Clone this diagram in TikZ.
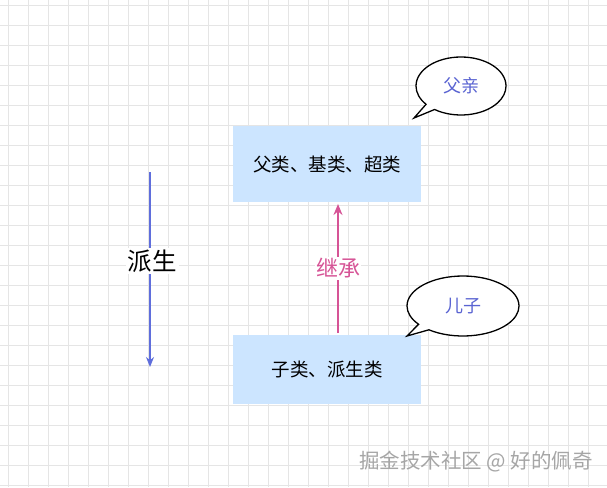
\documentclass[tikz,border=0pt]{standalone}
\usepackage{fontspec}
\newfontfamily\cjk{Noto Sans CJK SC}
\usetikzlibrary{shapes.callouts,arrows.meta}
\begin{document}
\begin{tikzpicture}[x=1pt,y=-1pt,font=\cjk,
  cls/.style={draw=none,fill={rgb,255:red,204;green,229;blue,255},minimum width=188,minimum height=76,inner sep=0,font=\cjk\fontsize{18.5}{20}\selectfont},
  bubble/.style={ellipse callout,draw=black,line width=1.3pt,fill=white,font=\cjk\fontsize{18}{20}\selectfont,text={rgb,255:red,90;green,100;blue,210}}]
\fill[white] (0,0) rectangle (607,487);
\useasboundingbox (0,0) rectangle (607,487);
\foreach \i in {0,20,...,600} \draw[black!10,line width=0.8pt] (\i+8,0) -- (\i+8,487);
\foreach \i in {0,20,...,480} \draw[black!10,line width=0.8pt] (0,\i+5) -- (607,\i+5);
\node[cls] (p) at (327,164) {父类、基类、超类};
\node[cls,minimum height=69] (c) at (327,369.5) {子类、派生类};
\coordinate (ps) at (338,333);
\coordinate (pe) at (338,204);
\draw[line width=2.4pt,draw={rgb,255:red,214;green,84;blue,150},-{Stealth[length=11pt,width=9pt]}] (ps) -- (pe)
  node[midway,fill=white,inner sep=1pt,text={rgb,255:red,214;green,84;blue,150},font=\cjk\fontsize{22}{24}\selectfont] (jc) {继承};
\coordinate (ds) at (150,172);
\coordinate (de) at (150,367);
\draw[line width=1.6pt,draw={rgb,255:red,95;green,110;blue,220},-{Stealth[length=10pt,width=8pt]}] (ds) -- (de);
\node[fill=white,inner sep=2pt,font=\cjk\fontsize{24.5}{26}\selectfont] (ps2) at (152,261) {派生};
\node[bubble,minimum width=90,minimum height=58,callout absolute pointer={(414,118)}] (b1) at (461,86) {父亲};
\node[bubble,minimum width=112,minimum height=60,callout absolute pointer={(407,336)}] (b2) at (463,306) {儿子};
\node[text=black!35,font=\cjk\fontsize{20.5}{22}\selectfont] (wm) at (476,462) {掘金技术社区 @ 好的佩奇};
\end{tikzpicture}
\end{document}
